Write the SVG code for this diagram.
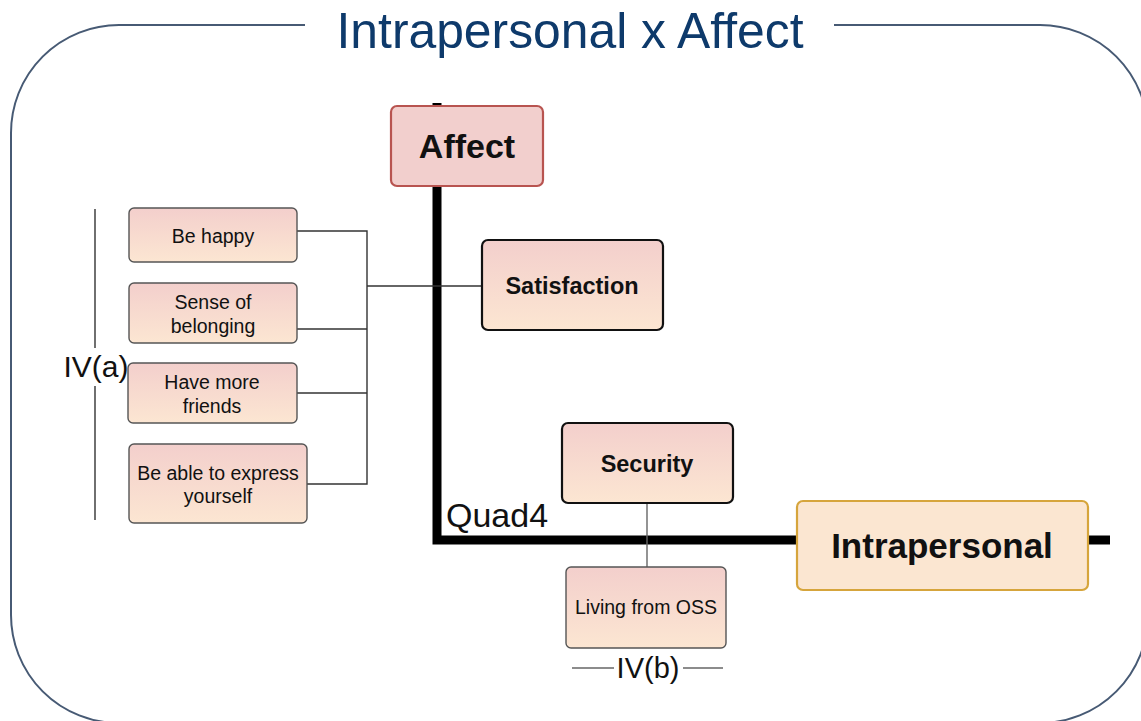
<svg xmlns="http://www.w3.org/2000/svg" width="1141" height="721" viewBox="0 0 1141 721">
<defs>
<linearGradient id="pk" x1="0" y1="0" x2="0" y2="1">
<stop offset="0" stop-color="#f3cfcc"/>
<stop offset="1" stop-color="#fce6d2"/>
</linearGradient>
<style>
.t{font-family:"Liberation Sans",Arial,sans-serif;fill:#111;text-anchor:middle}
.b{font-weight:bold}
.s{font-size:19.5px}
.sm{stroke:#555;stroke-width:1.4;fill:url(#pk)}
.bk{stroke:#111;stroke-width:2.2;fill:url(#pk)}
.thin{stroke:#333;stroke-width:1.4;fill:none}
.thick{stroke:#000;stroke-width:9;fill:none}
.gr{stroke:#666;stroke-width:1.4;fill:none}
</style>
</defs>
<rect width="1141" height="721" fill="#fff"/>
<g id="frame">
<rect x="11" y="25" width="1137" height="698" rx="108" ry="108" fill="none" stroke="#475a74" stroke-width="2"/>
<rect x="305" y="15" width="529" height="20" fill="#fff"/>
<text x="570" y="48" font-family="'Liberation Sans',Arial,sans-serif" font-size="50" fill="#0e3a6b" text-anchor="middle" textLength="467" lengthAdjust="spacingAndGlyphs">Intrapersonal x Affect</text>
</g>
<g id="connectors">
<line class="thick" x1="437" y1="103" x2="437" y2="110"/>
<polyline class="thick" points="437,186 437,540 800,540"/>
<line class="thick" x1="1086" y1="540" x2="1110" y2="540"/>
<polyline class="thin" points="297,231 367,231 367,484 307,484"/>
<line class="thin" x1="297" y1="329" x2="367" y2="329"/>
<line class="thin" x1="297" y1="393" x2="367" y2="393"/>
<line class="thin" x1="367" y1="286" x2="482" y2="286"/>
<line class="gr" x1="647" y1="503" x2="647" y2="567"/>
<line class="thin" x1="95" y1="209" x2="95" y2="348"/>
<line class="thin" x1="95" y1="386" x2="95" y2="520"/>
<line class="gr" x1="572" y1="668" x2="614" y2="668"/>
<line class="gr" x1="683" y1="668" x2="723" y2="668"/>
</g>
<g id="affect">
<rect x="391" y="106" width="152" height="80" rx="6" fill="#f2cfcd" stroke="#b85450" stroke-width="2.2"/>
<text class="t b" x="467" y="158" font-size="34">Affect</text>
</g>
<g id="satisfaction">
<rect class="bk" x="482" y="240" width="181" height="90" rx="6"/>
<text class="t b" x="572" y="294" font-size="23.5">Satisfaction</text>
</g>
<g id="security">
<rect class="bk" x="562" y="423" width="171" height="80" rx="6"/>
<text class="t b" x="647" y="472" font-size="23.5">Security</text>
</g>
<g id="intrapersonal">
<rect x="797" y="501" width="291" height="89" rx="6" fill="#fbe6d1" stroke="#d6a53c" stroke-width="2.2"/>
<text class="t b" x="942" y="558" font-size="35">Intrapersonal</text>
</g>
<g id="living">
<rect class="sm" x="566" y="567" width="160" height="81" rx="5"/>
<text class="t s" x="646" y="614">Living from OSS</text>
</g>
<g id="behappy">
<rect class="sm" x="129" y="208" width="168" height="54" rx="5"/>
<text class="t s" x="213" y="243">Be happy</text>
</g>
<g id="belonging">
<rect class="sm" x="129" y="283" width="168" height="60" rx="5"/>
<text class="t s" x="213" y="309">Sense of</text>
<text class="t s" x="213" y="333">belonging</text>
</g>
<g id="friends">
<rect class="sm" x="128" y="363" width="169" height="60" rx="5"/>
<text class="t s" x="212" y="389">Have more</text>
<text class="t s" x="212" y="413">friends</text>
</g>
<g id="express">
<rect class="sm" x="129" y="444" width="178" height="79" rx="5"/>
<text class="t s" x="218" y="480">Be able to express</text>
<text class="t s" x="218" y="503">yourself</text>
</g>
<g id="labels">
<text class="t" x="96" y="377" font-size="30">IV(a)</text>
<text class="t" x="446" y="527" font-size="34" style="text-anchor:start">Quad4</text>
<text class="t" x="648" y="678" font-size="29">IV(b)</text>
</g>
</svg>
